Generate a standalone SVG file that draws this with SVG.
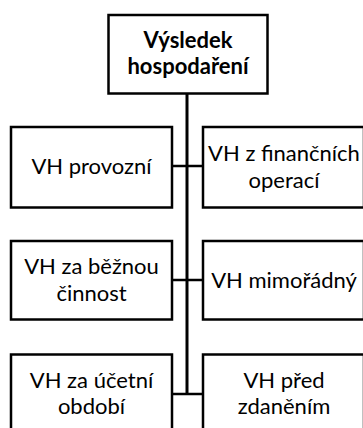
<svg xmlns="http://www.w3.org/2000/svg" width="363" height="428" viewBox="0 0 363 428">
<style>
.box{fill:#fff;stroke:#000;stroke-width:2.5}
.t{font-family:Lato,"Liberation Sans",sans-serif;font-size:22px;fill:#000;text-anchor:middle}
.b{font-weight:bold}
.c{stroke:#000;fill:none}
</style>
<rect width="363" height="428" fill="#fff"/>
<g id="connectors">
<line class="c" x1="187" y1="93" x2="187" y2="394" stroke-width="3"/>
<line class="c" x1="172" y1="166" x2="203" y2="166" stroke-width="2.5"/>
<line class="c" x1="172" y1="280" x2="203" y2="280" stroke-width="2.5"/>
<line class="c" x1="172" y1="394" x2="203" y2="394" stroke-width="2.5"/>
</g>
<g id="root">
<rect class="box" x="108.5" y="15" width="159" height="78.5"/>
<text class="t b" x="188" y="48">Výsledek</text>
<text class="t b" x="188" y="74">hospodaření</text>
</g>
<g id="n1">
<rect class="box" x="11" y="127" width="161" height="80.5"/>
<text class="t" x="91.5" y="174">VH provozní</text>
</g>
<g id="n2">
<rect class="box" x="203" y="127" width="161" height="80.5"/>
<text class="t" x="284" y="161">VH z finančních</text>
<text class="t" x="284" y="188">operací</text>
</g>
<g id="n3">
<rect class="box" x="11" y="241" width="161" height="78.5"/>
<text class="t" x="91.5" y="274">VH za běžnou</text>
<text class="t" x="91.5" y="301">činnost</text>
</g>
<g id="n4">
<rect class="box" x="203" y="241" width="161" height="78.5"/>
<text class="t" x="284" y="288">VH mimořádný</text>
</g>
<g id="n5">
<rect class="box" x="11" y="354.5" width="161" height="80"/>
<text class="t" x="91.5" y="388">VH za účetní</text>
<text class="t" x="91.5" y="414">období</text>
</g>
<g id="n6">
<rect class="box" x="203" y="354.5" width="161" height="80"/>
<text class="t" x="284" y="388">VH před</text>
<text class="t" x="284" y="414">zdaněním</text>
</g>
</svg>
